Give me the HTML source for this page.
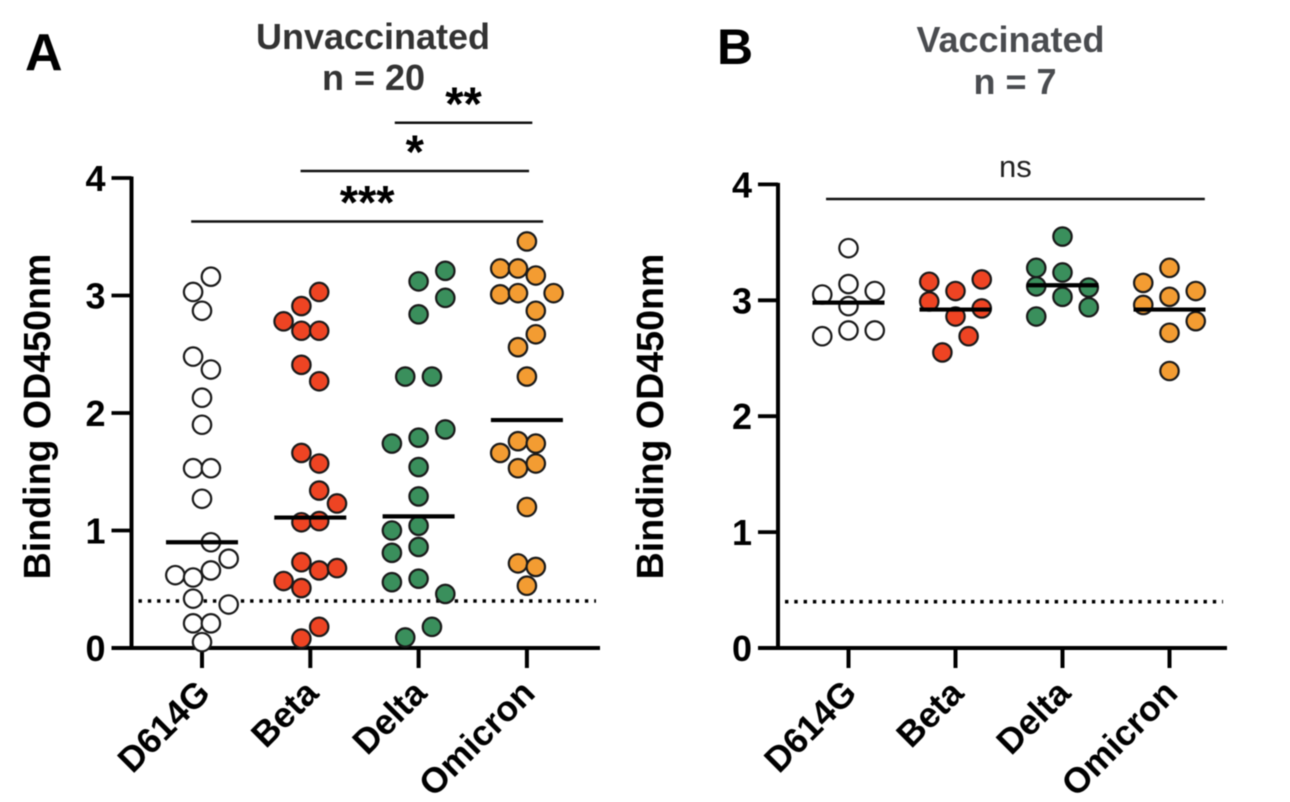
<!DOCTYPE html>
<html lang="en">
<head>
<meta charset="utf-8">
<title>Binding OD450nm: Unvaccinated and Vaccinated</title>
<style>
html,body{margin:0;padding:0;background:#fff;}
body{width:1290px;height:802px;overflow:hidden;}
svg{display:block;filter:blur(0.5px);}
text{font-family:"Liberation Sans",Arial,sans-serif;font-weight:700;fill:#000;}
</style>
</head>
<body>
<svg id="figure" xmlns="http://www.w3.org/2000/svg" width="1290" height="802" viewBox="0 0 1290 802">
  <rect width="1290" height="802" fill="#fff"/>
  <text x="25" y="70" font-size="52">A</text>
  <text x="717" y="64" font-size="50">B</text>
  <text x="373" y="49" font-size="36" text-anchor="middle" style="fill:#333">Unvaccinated</text>
  <text x="373.5" y="90" font-size="36" text-anchor="middle" style="fill:#333">n = 20</text>
  <text x="1010.5" y="52" font-size="36" text-anchor="middle" style="fill:#4a4c50">Vaccinated</text>
  <text x="1015" y="94" font-size="36" text-anchor="middle" style="fill:#4a4c50">n = 7</text>
  <g id="panel-a"></g>
  <g id="panel-b"></g>
</svg>
<script>
const categories = ["D614G", "Beta", "Delta", "Omicron"];
const yTickLabels = [0, 1, 2, 3, 4];
const categoryColors = ["#ffffff", "#ee4423", "#3a8f5c", "#f39c32"];

const unvaccinatedValues = [
  [3.16,3.03,2.87,2.48,2.37,2.13,1.90,1.53,1.53,1.27,0.90,0.76,0.66,0.62,0.60,0.42,0.37,0.21,0.21,0.05],
  [3.03,2.91,2.78,2.70,2.70,2.41,2.27,1.66,1.57,1.34,1.23,1.07,1.08,0.73,0.66,0.68,0.57,0.51,0.18,0.08],
  [3.21,3.12,2.98,2.84,2.31,2.31,1.74,1.79,1.86,1.54,1.29,1.00,1.04,0.81,0.86,0.56,0.59,0.46,0.18,0.09],
  [3.46,3.23,3.23,3.17,3.01,3.02,3.02,2.87,2.67,2.56,2.31,1.76,1.74,1.66,1.53,1.57,1.20,0.72,0.69,0.53]
];
const unvaccinatedSwarmSlots = [
  [1,-1,0,-1,1,0,0,-1,1,0,1,3,1,-3,-1,-1,3,-1,1,0],
  [1,-1,-3,-1,1,-1,1,-1,1,1,3,-1,1,-1,1,3,-3,-1,1,-1],
  [3,0,3,0,-1.5,1.5,-3,0,3,0,0,-3,0,-3,0,-3,0,3,1.5,-1.5],
  [0,-3,-1,1,-3,-1,3,1,1,-1,0,-1,1,-3,-1,1,0,-1,1,0]
];
const unvaccinatedMedians = [0.90, 1.11, 1.12, 1.94];

const vaccinatedValues = [
  [3.45,3.14,3.05,3.08,2.95,2.69,2.74,2.74],
  [3.16,3.08,3.18,2.99,2.93,2.86,2.69,2.55],
  [3.55,3.28,3.24,3.12,3.11,3.03,2.94,2.86],
  [3.28,3.15,3.08,3.03,2.96,2.82,2.72,2.39]
];
const vaccinatedSwarmSlots = [
  [0,0,-3,3,0,-3,0,3],
  [-3,0,3,-3,3,0,1.5,-1.5],
  [0,-3,0,-3,3,0,3,-3],
  [0,-3,3,0,-3,3,0,0]
];
const vaccinatedMedians = [2.98, 2.92, 3.13, 2.92];

const detectionLimit = 0.4;

const unvaccinatedBrackets = [
  {label: "**", fromCategory: 1.78, toCategory: 3.05, value: 4.47},
  {label: "*", fromCategory: 0.91, toCategory: 3.02, value: 4.06},
  {label: "***", fromCategory: -0.10, toCategory: 3.15, value: 3.63}
];
const vaccinatedBrackets = [
  {label: "ns", fromCategory: -0.21, toCategory: 3.33, value: 3.874}
];

const SVG_NS = "http://www.w3.org/2000/svg";

function make(parent, tag, props) {
  const el = document.createElementNS(SVG_NS, tag);
  for (const k in props) el.setAttribute(k, props[k]);
  parent.appendChild(el);
  return el;
}

function drawPanel(cfg) {
  const g = document.getElementById(cfg.id);
  const y = v => cfg.y0 - v * cfg.unit;
  const x = i => cfg.x0 + i * cfg.step;

  // limit of detection
  const limit = make(g, "line", {x1: cfg.axisX + 7, x2: cfg.axisEnd - 4, y1: y(detectionLimit), y2: y(detectionLimit), stroke: "#000", "stroke-width": 3.6, "stroke-dasharray": "3.4 5.9"});
  
  

  // y axis
  const yAxis = make(g, "line", {x1: cfg.axisX, x2: cfg.axisX, y1: y(4) - 1.5, y2: y(0) + 1.5, stroke: "#000", "stroke-width": 4});
  
  

  yTickLabels.forEach(t => {
    const tick = make(g, "line", {x1: cfg.axisX - 20, x2: cfg.axisX, y1: y(t), y2: y(t), stroke: "#000", "stroke-width": 3.8});
    
    
    const label = make(g, "text", {x: cfg.axisX - 26, y: y(t) + 13, "font-size": 36, "text-anchor": "end"});
    label.textContent = t;
    
    
  });

  // x axis
  const xAxis = make(g, "line", {x1: cfg.axisX - 20, x2: cfg.axisEnd, y1: y(0), y2: y(0), stroke: "#000", "stroke-width": 4});
  
  

  categories.forEach((c, i) => {
    const tick = make(g, "line", {x1: x(i), x2: x(i), y1: y(0), y2: y(0) + 20, stroke: "#000", "stroke-width": 4});
    
    
    const lx = x(i) + 10;
    const ly = y(0) + 47;
    const label = make(g, "text", {x: lx, y: ly, "font-size": 35.5, "text-anchor": "end", transform: "rotate(-45 " + lx + " " + ly + ")"});
    label.textContent = c;
    
    
  });

  // y axis title
  const title = make(g, "text", {x: cfg.titleX, y: 416.5, "font-size": 37.6, "text-anchor": "middle", transform: "rotate(-90 " + cfg.titleX + " 416.5)"});
  title.textContent = "Binding OD450nm";
  
  

  // significance brackets
  cfg.brackets.forEach(b => {
    const line = make(g, "line", {x1: x(b.fromCategory), x2: x(b.toCategory), y1: y(b.value), y2: y(b.value), stroke: "#111", "stroke-width": 2.5});
    
    
    const mid = (x(b.fromCategory) + x(b.toCategory)) / 2;
    const isNs = b.label === "ns";
    const label = make(g, "text", {x: mid, y: y(b.value) + (isNs ? -22 : -3), "font-size": isNs ? 31 : 47, "text-anchor": "middle"});
    if (isNs) label.setAttribute("style", "font-weight:400;fill:#222");
    label.textContent = b.label;
    
    
  });

  // points
  cfg.values.forEach((series, i) => {
    series.forEach((v, j) => {
      const dot = make(g, "circle", {cx: x(i) + cfg.slots[i][j] * cfg.slotWidth, cy: y(v), r: 9.2, fill: categoryColors[i], stroke: "#1a1a1a", "stroke-width": 2.2});
      
      
    });
  });

  // medians
  cfg.medians.forEach((m, i) => {
    const line = make(g, "line", {x1: x(i) - 36, x2: x(i) + 36, y1: y(m), y2: y(m), stroke: "#000", "stroke-width": 4.2});
    
    
  });
}

drawPanel({
  id: "panel-a", x0: 202, step: 108.3, y0: 648, unit: 117.5,
  axisX: 131.5, axisEnd: 600, titleX: 50, slotWidth: 8.9,
  values: unvaccinatedValues, slots: unvaccinatedSwarmSlots,
  medians: unvaccinatedMedians, brackets: unvaccinatedBrackets
});
drawPanel({
  id: "panel-b", x0: 848.5, step: 107, y0: 648, unit: 115.9,
  axisX: 778, axisEnd: 1227, titleX: 663, slotWidth: 8.75,
  values: vaccinatedValues, slots: vaccinatedSwarmSlots,
  medians: vaccinatedMedians, brackets: vaccinatedBrackets
});
</script>
</body>
</html>
